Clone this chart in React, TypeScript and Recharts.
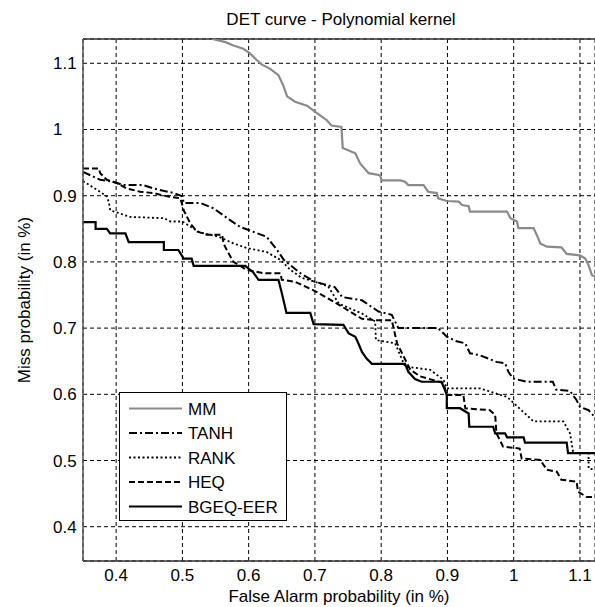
import React from 'react';
import { LineChart, Line, XAxis, YAxis, CartesianGrid, ReferenceLine } from 'recharts';

const TITLE = 'DET curve - Polynomial kernel';
const X_LABEL = 'False Alarm probability (in %)';
const Y_LABEL = 'Miss probability (in %)';
const X_TICKS = [0.4, 0.5, 0.6, 0.7, 0.8, 0.9, 1, 1.1];
const Y_TICKS = [0.4, 0.5, 0.6, 0.7, 0.8, 0.9, 1, 1.1];
const X_DOMAIN: [number, number] = [0.35, 1.1227];
const Y_DOMAIN: [number, number] = [0.3482, 1.1367];

const MM: [number, number][] = [
  [0.544, 1.137], [0.565, 1.132], [0.577, 1.127], [0.592, 1.122], [0.602, 1.115], [0.612, 1.105],
  [0.62, 1.098], [0.632, 1.092], [0.645, 1.082], [0.652, 1.067], [0.658, 1.05], [0.67, 1.042],
  [0.688, 1.036], [0.7, 1.027], [0.718, 1.014], [0.725, 1.006], [0.74, 1.004], [0.742, 0.972],
  [0.761, 0.964], [0.768, 0.949], [0.781, 0.934], [0.798, 0.931], [0.801, 0.923], [0.829, 0.923],
  [0.836, 0.921], [0.841, 0.916], [0.864, 0.916], [0.871, 0.906], [0.884, 0.904], [0.886, 0.896],
  [0.899, 0.892], [0.917, 0.891], [0.922, 0.886], [0.932, 0.884], [0.934, 0.876], [0.99, 0.876],
  [0.995, 0.866], [1.005, 0.861], [1.007, 0.851], [1.03, 0.851], [1.037, 0.836], [1.04, 0.828],
  [1.05, 0.823], [1.072, 0.822], [1.08, 0.812], [1.1, 0.81], [1.108, 0.805], [1.113, 0.795],
  [1.118, 0.78], [1.123, 0.778],
];

const TANH: [number, number][] = [
  [0.35, 0.936], [0.376, 0.924], [0.396, 0.921], [0.411, 0.916], [0.441, 0.916], [0.456, 0.911],
  [0.487, 0.904], [0.5, 0.899], [0.502, 0.889], [0.527, 0.889], [0.547, 0.881], [0.572, 0.863],
  [0.587, 0.853], [0.627, 0.838], [0.643, 0.818], [0.653, 0.803], [0.678, 0.783], [0.7, 0.77],
  [0.73, 0.762], [0.741, 0.747], [0.771, 0.742], [0.796, 0.725], [0.816, 0.72], [0.821, 0.71],
  [0.826, 0.7], [0.886, 0.7], [0.899, 0.687], [0.914, 0.68], [0.927, 0.677], [0.934, 0.662],
  [0.949, 0.659], [0.974, 0.649], [0.987, 0.647], [0.992, 0.634], [0.999, 0.624], [1.019, 0.619],
  [1.059, 0.619], [1.064, 0.607], [1.085, 0.605], [1.095, 0.591], [1.1, 0.581], [1.113, 0.576],
  [1.124, 0.564],
];

const RANK: [number, number][] = [
  [0.35, 0.922], [0.371, 0.909], [0.386, 0.899], [0.389, 0.89], [0.391, 0.878], [0.421, 0.868],
  [0.472, 0.866], [0.482, 0.861], [0.5, 0.861], [0.525, 0.845], [0.555, 0.838], [0.577, 0.828],
  [0.597, 0.821], [0.627, 0.815], [0.648, 0.803], [0.663, 0.788], [0.68, 0.776], [0.7, 0.77],
  [0.72, 0.763], [0.736, 0.737], [0.771, 0.722], [0.791, 0.71], [0.792, 0.682], [0.821, 0.677],
  [0.836, 0.642], [0.874, 0.637], [0.894, 0.622], [0.899, 0.609], [0.949, 0.609], [0.99, 0.596],
  [1.03, 0.559], [1.075, 0.559], [1.085, 0.541], [1.09, 0.511], [1.113, 0.511], [1.113, 0.488],
  [1.124, 0.486],
];

const HEQ: [number, number][] = [
  [0.35, 0.941], [0.374, 0.941], [0.376, 0.934], [0.386, 0.924], [0.401, 0.919], [0.416, 0.911],
  [0.436, 0.906], [0.456, 0.904], [0.477, 0.899], [0.497, 0.896], [0.502, 0.878], [0.512, 0.858],
  [0.522, 0.846], [0.537, 0.841], [0.56, 0.841], [0.562, 0.828], [0.567, 0.818], [0.577, 0.8],
  [0.597, 0.788], [0.622, 0.783], [0.648, 0.783], [0.65, 0.773], [0.67, 0.77], [0.7, 0.756],
  [0.73, 0.739], [0.771, 0.714], [0.791, 0.712], [0.816, 0.712], [0.821, 0.69], [0.824, 0.677],
  [0.834, 0.657], [0.844, 0.637], [0.859, 0.627], [0.894, 0.617], [0.899, 0.599], [0.924, 0.599],
  [0.927, 0.579], [0.964, 0.576], [0.972, 0.569], [0.974, 0.541], [0.984, 0.521], [1.009, 0.518],
  [1.012, 0.503], [1.04, 0.501], [1.05, 0.486], [1.065, 0.483], [1.072, 0.471], [1.095, 0.468],
  [1.097, 0.453], [1.11, 0.445], [1.124, 0.445],
];

const BGEQ: [number, number][] = [
  [0.35, 0.86], [0.369, 0.86], [0.369, 0.85], [0.386, 0.85], [0.391, 0.843], [0.414, 0.843],
  [0.419, 0.83], [0.472, 0.83], [0.472, 0.818], [0.494, 0.818], [0.502, 0.805], [0.514, 0.805],
  [0.517, 0.794], [0.595, 0.794], [0.607, 0.784], [0.615, 0.773], [0.645, 0.773], [0.65, 0.753],
  [0.655, 0.732], [0.657, 0.723], [0.693, 0.723], [0.698, 0.706], [0.743, 0.705], [0.751, 0.692],
  [0.761, 0.687], [0.766, 0.676], [0.771, 0.664], [0.778, 0.654], [0.786, 0.646], [0.836, 0.646],
  [0.841, 0.634], [0.851, 0.623], [0.861, 0.619], [0.891, 0.619], [0.896, 0.607], [0.899, 0.599],
  [0.899, 0.579], [0.919, 0.579], [0.932, 0.571], [0.933, 0.551], [0.969, 0.551], [0.972, 0.541],
  [0.987, 0.541], [0.99, 0.535], [1.015, 0.535], [1.017, 0.527], [1.08, 0.527], [1.082, 0.511],
  [1.124, 0.511],
];

const SERIES_NAMES = ['MM', 'TANH', 'RANK', 'HEQ', 'BGEQ-EER'];
const SERIES_DATA = [MM, TANH, RANK, HEQ, BGEQ];
const SERIES_STYLE = [
  { stroke: '#8a8a8a', width: 2.2, dash: undefined as string | undefined },
  { stroke: '#000', width: 2, dash: '8 3 2 3' },
  { stroke: '#000', width: 1.8, dash: '2 2.5' },
  { stroke: '#000', width: 2, dash: '6 3' },
  { stroke: '#000', width: 2.2, dash: undefined as string | undefined },
];

const toPoints = (arr: [number, number][]) => arr.map(([x, y]) => ({ x, y }));

const FONT = '"Liberation Sans", Arial, sans-serif';
const FS = 17;

const XTick = (props: any) => {
  const { x, payload } = props;
  return (
    <text x={x} y={581} textAnchor="middle" fontSize={FS} fontFamily={FONT} fill="#000">
      {String(payload.value)}
    </text>
  );
};

const YTick = (props: any) => {
  const { y, payload } = props;
  return (
    <text x={53} y={y + 6} textAnchor="start" fontSize={FS} fontFamily={FONT} fill="#000">
      {String(payload.value)}
    </text>
  );
};

const LegendBox = () => {
  const rows = SERIES_NAMES.map((n, i) => ({ name: n, style: SERIES_STYLE[i] }));
  return (
    <svg
      width={168}
      height={129}
      style={{ position: 'absolute', left: 119, top: 392 }}
    >
      <rect x={0.5} y={0.5} width={167} height={128} fill="#fff" stroke="#000" strokeWidth={1} />
      {rows.map((r, i) => {
        const cy = 16.5 + i * 24.5;
        return (
          <g key={r.name}>
            <line
              x1={10}
              x2={63}
              y1={cy}
              y2={cy}
              stroke={r.style.stroke}
              strokeWidth={r.style.width}
              strokeDasharray={r.style.dash}
            />
            <text x={69} y={cy + 6} fontSize={FS} fontFamily={FONT} fill="#000">
              {r.name}
            </text>
          </g>
        );
      })}
    </svg>
  );
};

export default function App() {
  return (
    <div
      style={{
        position: 'absolute',
        left: 0,
        top: 0,
        width: 595,
        height: 607,
        background: '#fff',
        overflow: 'hidden',
        fontFamily: FONT,
      }}
    >
      <svg width={595} height={40} style={{ position: 'absolute', left: 0, top: 0 }}>
        <text x={341} y={25} textAnchor="middle" fontSize={FS} fontFamily={FONT} fill="#000">
          {TITLE}
        </text>
      </svg>
      <LineChart
        width={595}
        height={607}
        margin={{ top: 39, right: 0, bottom: 0, left: 0 }}
        style={{ position: 'absolute', left: 0, top: 0 }}
      >
        <CartesianGrid stroke="#000" strokeDasharray="4 3" strokeWidth={1} />
        <XAxis
          dataKey="x"
          type="number"
          domain={X_DOMAIN}
          ticks={X_TICKS}
          allowDataOverflow
          height={46}
          tickLine={false}
          axisLine={{ stroke: '#333', strokeWidth: 1.5 }}
          tick={<XTick />}
          label={{ value: X_LABEL, position: 'insideBottom', offset: 5, fill: '#000', fontSize: FS, fontFamily: FONT }}
        />
        <YAxis
          dataKey="y"
          type="number"
          domain={Y_DOMAIN}
          ticks={Y_TICKS}
          allowDataOverflow
          width={83}
          tickLine={false}
          axisLine={{ stroke: '#555', strokeWidth: 1.5 }}
          tick={<YTick />}
          label={{
            value: Y_LABEL,
            angle: -90,
            position: 'insideLeft',
            offset: 24,
            fill: '#000',
            fontSize: FS,
            fontFamily: FONT,
            style: { textAnchor: 'middle' },
          }}
        />
        <ReferenceLine y={Y_DOMAIN[1]} stroke="#333" strokeWidth={1.5} />
        {SERIES_DATA.map((d, i) => (
          <Line
            key={SERIES_NAMES[i]}
            data={toPoints(d)}
            dataKey="y"
            name={SERIES_NAMES[i]}
            type="linear"
            stroke={SERIES_STYLE[i].stroke}
            strokeWidth={SERIES_STYLE[i].width}
            strokeDasharray={SERIES_STYLE[i].dash}
            dot={false}
            activeDot={false}
            isAnimationActive={false}
          />
        ))}
      </LineChart>
      <LegendBox />
    </div>
  );
}
